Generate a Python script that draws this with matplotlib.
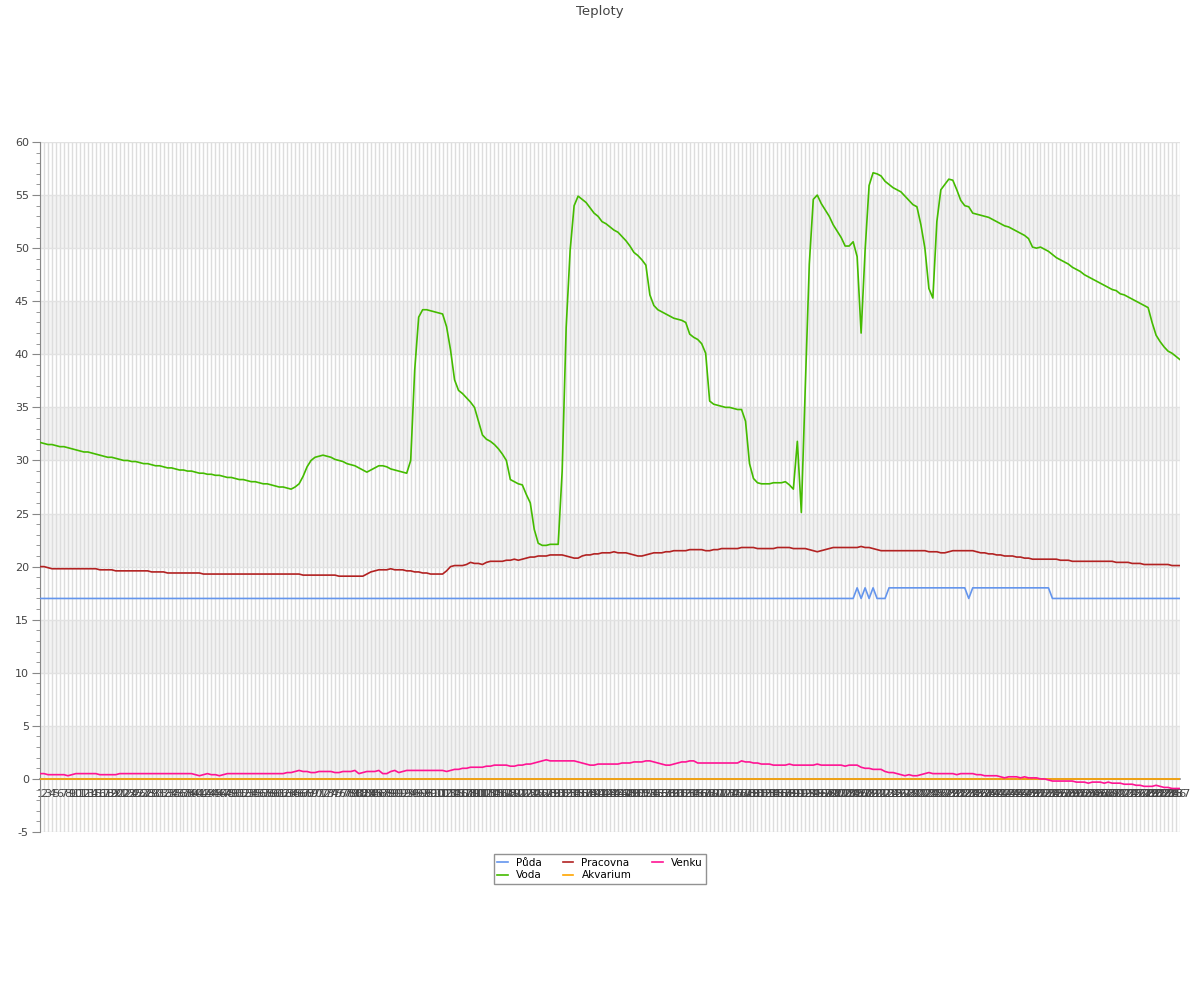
import numpy as np
from matplotlib import pyplot as plt
from matplotlib.ticker import MultipleLocator

# --- data ---
voda = [
    31.7, 31.6, 31.5, 31.5, 31.4, 31.3, 31.3, 31.2, 31.1, 31.0,
    30.9, 30.8, 30.8, 30.7, 30.6, 30.5, 30.4, 30.3, 30.3, 30.2,
    30.1, 30.0, 30.0, 29.9, 29.9, 29.8, 29.7, 29.7, 29.6, 29.5,
    29.5, 29.4, 29.3, 29.3, 29.2, 29.1, 29.1, 29.0, 29.0, 28.9,
    28.8, 28.8, 28.7, 28.7, 28.6, 28.6, 28.5, 28.4, 28.4, 28.3,
    28.2, 28.2, 28.1, 28.0, 28.0, 27.9, 27.8, 27.8, 27.7, 27.6,
    27.5, 27.5, 27.4, 27.3, 27.5, 27.8, 28.5, 29.4, 30.0, 30.3,
    30.4, 30.5, 30.4, 30.3, 30.1, 30.0, 29.9, 29.7, 29.6, 29.5,
    29.3, 29.1, 28.9, 29.1, 29.3, 29.5, 29.5, 29.4, 29.2, 29.1,
    29.0, 28.9, 28.8, 30.0, 38.5, 43.5, 44.2, 44.2, 44.1, 44.0,
    43.9, 43.8, 42.6, 40.4, 37.6, 36.6, 36.3, 35.9, 35.5, 35.0,
    33.7, 32.4, 32.0, 31.8, 31.5, 31.1, 30.6, 30.0, 28.2, 28.0,
    27.8, 27.7, 26.8, 26.0, 23.5, 22.2, 22.0, 22.0, 22.1, 22.1,
    22.1, 29.0, 42.5, 49.8, 54.0, 54.9, 54.6, 54.3, 53.8, 53.3,
    53.0, 52.5, 52.3, 52.0, 51.7, 51.5, 51.1, 50.7, 50.2, 49.6,
    49.3, 48.9, 48.4, 45.6, 44.6, 44.2, 44.0, 43.8, 43.6, 43.4,
    43.3, 43.2, 43.0, 41.9, 41.6, 41.4, 41.0, 40.1, 35.6, 35.3,
    35.2, 35.1, 35.0, 35.0, 34.9, 34.8, 34.8, 33.7, 29.7, 28.3,
    27.9, 27.8, 27.8, 27.8, 27.9, 27.9, 27.9, 28.0, 27.7, 27.3,
    31.8, 25.1, 37.0, 48.5, 54.6, 55.0, 54.2, 53.6, 53.0, 52.2,
    51.6, 51.0, 50.2, 50.2, 50.6, 49.2, 42.0, 49.8, 55.9, 57.1,
    57.0, 56.8, 56.3, 56.0, 55.7, 55.5, 55.3, 54.9, 54.5, 54.1,
    53.9, 52.2, 50.0, 46.2, 45.3, 52.5, 55.5, 56.0, 56.5, 56.4,
    55.5, 54.5, 54.0, 53.9, 53.3, 53.2, 53.1, 53.0, 52.9, 52.7,
    52.5, 52.3, 52.1, 52.0, 51.8, 51.6, 51.4, 51.2, 50.9, 50.1,
    50.0, 50.1, 49.9, 49.7, 49.4, 49.1, 48.9, 48.7, 48.5, 48.2,
    48.0, 47.8, 47.5, 47.3, 47.1, 46.9, 46.7, 46.5, 46.3, 46.1,
    46.0, 45.7, 45.6, 45.4, 45.2, 45.0, 44.8, 44.6, 44.4, 43.0,
    41.8, 41.2, 40.7, 40.3, 40.1, 39.8, 39.5,
]

pracovna = [
    20.0, 20.0, 19.9, 19.8, 19.8, 19.8, 19.8, 19.8, 19.8, 19.8,
    19.8, 19.8, 19.8, 19.8, 19.8, 19.7, 19.7, 19.7, 19.7, 19.6,
    19.6, 19.6, 19.6, 19.6, 19.6, 19.6, 19.6, 19.6, 19.5, 19.5,
    19.5, 19.5, 19.4, 19.4, 19.4, 19.4, 19.4, 19.4, 19.4, 19.4,
    19.4, 19.3, 19.3, 19.3, 19.3, 19.3, 19.3, 19.3, 19.3, 19.3,
    19.3, 19.3, 19.3, 19.3, 19.3, 19.3, 19.3, 19.3, 19.3, 19.3,
    19.3, 19.3, 19.3, 19.3, 19.3, 19.3, 19.2, 19.2, 19.2, 19.2,
    19.2, 19.2, 19.2, 19.2, 19.2, 19.1, 19.1, 19.1, 19.1, 19.1,
    19.1, 19.1, 19.3, 19.5, 19.6, 19.7, 19.7, 19.7, 19.8, 19.7,
    19.7, 19.7, 19.6, 19.6, 19.5, 19.5, 19.4, 19.4, 19.3, 19.3,
    19.3, 19.3, 19.6, 20.0, 20.1, 20.1, 20.1, 20.2, 20.4, 20.3,
    20.3, 20.2, 20.4, 20.5, 20.5, 20.5, 20.5, 20.6, 20.6, 20.7,
    20.6, 20.7, 20.8, 20.9, 20.9, 21.0, 21.0, 21.0, 21.1, 21.1,
    21.1, 21.1, 21.0, 20.9, 20.8, 20.8, 21.0, 21.1, 21.1, 21.2,
    21.2, 21.3, 21.3, 21.3, 21.4, 21.3, 21.3, 21.3, 21.2, 21.1,
    21.0, 21.0, 21.1, 21.2, 21.3, 21.3, 21.3, 21.4, 21.4, 21.5,
    21.5, 21.5, 21.5, 21.6, 21.6, 21.6, 21.6, 21.5, 21.5, 21.6,
    21.6, 21.7, 21.7, 21.7, 21.7, 21.7, 21.8, 21.8, 21.8, 21.8,
    21.7, 21.7, 21.7, 21.7, 21.7, 21.8, 21.8, 21.8, 21.8, 21.7,
    21.7, 21.7, 21.7, 21.6, 21.5, 21.4, 21.5, 21.6, 21.7, 21.8,
    21.8, 21.8, 21.8, 21.8, 21.8, 21.8, 21.9, 21.8, 21.8, 21.7,
    21.6, 21.5, 21.5, 21.5, 21.5, 21.5, 21.5, 21.5, 21.5, 21.5,
    21.5, 21.5, 21.5, 21.4, 21.4, 21.4, 21.3, 21.3, 21.4, 21.5,
    21.5, 21.5, 21.5, 21.5, 21.5, 21.4, 21.3, 21.3, 21.2, 21.2,
    21.1, 21.1, 21.0, 21.0, 21.0, 20.9, 20.9, 20.8, 20.8, 20.7,
    20.7, 20.7, 20.7, 20.7, 20.7, 20.7, 20.6, 20.6, 20.6, 20.5,
    20.5, 20.5, 20.5, 20.5, 20.5, 20.5, 20.5, 20.5, 20.5, 20.5,
    20.4, 20.4, 20.4, 20.4, 20.3, 20.3, 20.3, 20.2, 20.2, 20.2,
    20.2, 20.2, 20.2, 20.2, 20.1, 20.1, 20.1,
]

venku = [
    0.5, 0.5, 0.4, 0.4, 0.4, 0.4, 0.4, 0.3, 0.4, 0.5,
    0.5, 0.5, 0.5, 0.5, 0.5, 0.4, 0.4, 0.4, 0.4, 0.4,
    0.5, 0.5, 0.5, 0.5, 0.5, 0.5, 0.5, 0.5, 0.5, 0.5,
    0.5, 0.5, 0.5, 0.5, 0.5, 0.5, 0.5, 0.5, 0.5, 0.4,
    0.3, 0.4, 0.5, 0.4, 0.4, 0.3, 0.4, 0.5, 0.5, 0.5,
    0.5, 0.5, 0.5, 0.5, 0.5, 0.5, 0.5, 0.5, 0.5, 0.5,
    0.5, 0.5, 0.6, 0.6, 0.7, 0.8, 0.7, 0.7, 0.6, 0.6,
    0.7, 0.7, 0.7, 0.7, 0.6, 0.6, 0.7, 0.7, 0.7, 0.8,
    0.5, 0.6, 0.7, 0.7, 0.7, 0.8, 0.5, 0.5, 0.7, 0.8,
    0.6, 0.7, 0.8, 0.8, 0.8, 0.8, 0.8, 0.8, 0.8, 0.8,
    0.8, 0.8, 0.7, 0.8, 0.9, 0.9, 1.0, 1.0, 1.1, 1.1,
    1.1, 1.1, 1.2, 1.2, 1.3, 1.3, 1.3, 1.3, 1.2, 1.2,
    1.3, 1.3, 1.4, 1.4, 1.5, 1.6, 1.7, 1.8, 1.7, 1.7,
    1.7, 1.7, 1.7, 1.7, 1.7, 1.6, 1.5, 1.4, 1.3, 1.3,
    1.4, 1.4, 1.4, 1.4, 1.4, 1.4, 1.5, 1.5, 1.5, 1.6,
    1.6, 1.6, 1.7, 1.7, 1.6, 1.5, 1.4, 1.3, 1.3, 1.4,
    1.5, 1.6, 1.6, 1.7, 1.7, 1.5, 1.5, 1.5, 1.5, 1.5,
    1.5, 1.5, 1.5, 1.5, 1.5, 1.5, 1.7, 1.6, 1.6, 1.5,
    1.5, 1.4, 1.4, 1.4, 1.3, 1.3, 1.3, 1.3, 1.4, 1.3,
    1.3, 1.3, 1.3, 1.3, 1.3, 1.4, 1.3, 1.3, 1.3, 1.3,
    1.3, 1.3, 1.2, 1.3, 1.3, 1.3, 1.1, 1.0, 1.0, 0.9,
    0.9, 0.9, 0.7, 0.6, 0.6, 0.5, 0.4, 0.3, 0.4, 0.3,
    0.3, 0.4, 0.5, 0.6, 0.5, 0.5, 0.5, 0.5, 0.5, 0.5,
    0.4, 0.5, 0.5, 0.5, 0.5, 0.4, 0.4, 0.3, 0.3, 0.3,
    0.3, 0.2, 0.1, 0.2, 0.2, 0.2, 0.1, 0.2, 0.1, 0.1,
    0.1, 0.0, 0.0, -0.1, -0.2, -0.2, -0.2, -0.2, -0.2, -0.2,
    -0.3, -0.3, -0.3, -0.4, -0.3, -0.3, -0.3, -0.4, -0.3, -0.4,
    -0.4, -0.4, -0.5, -0.5, -0.5, -0.6, -0.6, -0.7, -0.7, -0.7,
    -0.6, -0.7, -0.8, -0.8, -0.9, -0.9, -0.9,
]

n = len(voda)
# Puda: 17 most of the time, 18 in a few stretches
puda = [17] * n
for i in [205, 207, 209] + list(range(213, 233)) + list(range(234, 254)):
    puda[i] = 18

akvarium = [0] * n
labels = [str(i + 1) for i in range(n)]

series = [
    ("Půda", puda, "#6495ed"),
    ("Voda", voda, "#44bb00"),
    ("Pracovna", pracovna, "#b22222"),
    ("Akvarium", akvarium, "#ffa500"),
    ("Venku", venku, "#ff1493"),
]

plt.rcParams['font.family'] = ['DejaVu Sans']
plt.rcParams['axes.unicode_minus'] = False

fig = plt.figure(figsize=(12, 10), dpi=100)
ax = fig.add_axes([40 / 1200, 1 - 832 / 1000, 1140 / 1200, 690 / 1000])

x = np.arange(n)

# alternating bands
for lo in range(0, 55, 10):
    ax.axhspan(lo, lo + 5, color="#f3f3f3", zorder=0, lw=0)

# grid
for xi in x:
    ax.axvline(xi, color="#dddddd", lw=1, zorder=0.5)
for yv in range(-5, 61, 5):
    ax.axhline(yv, color="#e2e2e2", lw=1, zorder=0.5)

for name, vals, col in series:
    ax.plot(x, vals, color=col, lw=1.2, label=name, zorder=3)

ax.set_xlim(0, n - 1)
ax.set_ylim(-5, 60)

ax.spines['top'].set_visible(False)
ax.spines['right'].set_visible(False)
ax.spines['left'].set_color("#888888")
ax.spines['bottom'].set_position(('data', 0))
ax.spines['bottom'].set_color("#888888")
ax.spines['bottom'].set_linewidth(1.2)

ax.yaxis.set_major_locator(MultipleLocator(5))
ax.yaxis.set_minor_locator(MultipleLocator(1))
ax.tick_params(axis='y', which='major', length=6, color="#888888",
               labelsize=8, labelcolor="#444444", pad=2)
ax.tick_params(axis='y', which='minor', length=3, color="#888888")

ax.set_xticks(x)
ax.set_xticklabels(labels, fontsize=8, color="#444444")
ax.tick_params(axis='x', length=0, pad=7)

fig.text(0.5, 1 - 11 / 1000, "Teploty", ha="center", va="center",
         fontsize=9.5, color="#444444")

leg = fig.legend(loc="upper center", bbox_to_anchor=(0.5, 1 - 849 / 1000),
                 ncol=3, fontsize=7.5, frameon=True, fancybox=False,
                 handlelength=1.0, handletextpad=0.8, columnspacing=2.0,
                 borderpad=0.35, labelspacing=0.25)
leg.get_frame().set_edgecolor("#777777")
leg.get_frame().set_linewidth(1)

fig.savefig("out.png", dpi=100)
